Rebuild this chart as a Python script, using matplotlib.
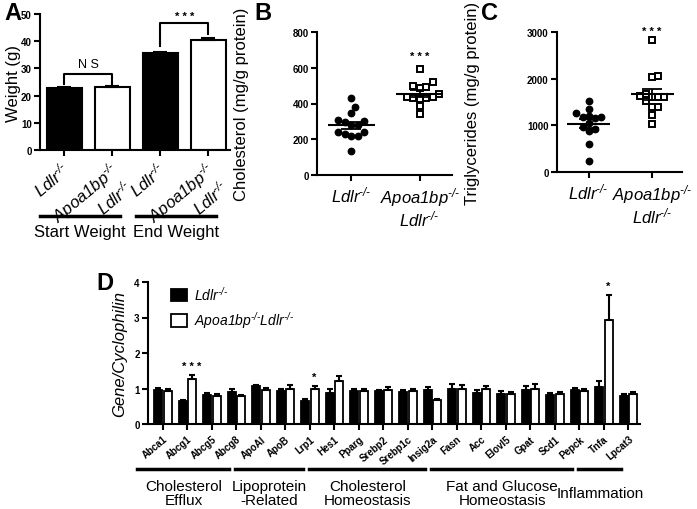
import numpy as np
import matplotlib
matplotlib.use('Agg')
import matplotlib.pyplot as plt
from matplotlib.transforms import ScaledTranslation, blended_transform_factory

plt.rcParams['font.family'] = ['Liberation Sans', 'DejaVu Sans']
plt.rcParams['mathtext.fontset'] = 'custom'
plt.rcParams['mathtext.rm'] = 'Liberation Sans:italic'
plt.rcParams['mathtext.it'] = 'Liberation Sans:italic'
plt.rcParams['mathtext.default'] = 'regular'
plt.rcParams['axes.linewidth'] = 1.5

SUP = r'$^{\text{-/-}}$'

# ---- panel A: body weight
weight_labels = ['Ldlr' + SUP, 'Apoa1bp' + SUP + '\nLdlr' + SUP,
                 'Ldlr' + SUP, 'Apoa1bp' + SUP + '\nLdlr' + SUP]
weight_mean = [22.8, 23.2, 35.6, 40.6]
weight_err = [0.4, 0.4, 0.6, 0.6]
weight_fill = ['black', 'white', 'black', 'white']
weight_groups = [('Start Weight', 0, 1), ('End Weight', 2, 3)]

# ---- panels B, C: liver lipids
dot_labels = ['Ldlr' + SUP, 'Apoa1bp' + SUP + '\nLdlr' + SUP]
chol_ldlr = [430, 378, 346, 300, 309, 298, 279, 280, 241, 241, 228, 219, 219, 135]
chol_dko = [595, 518, 496, 490, 485, 453, 438, 435, 433, 430, 425, 388, 341]
tg_ldlr = [1530, 1340, 1270, 1200, 1180, 1170, 1160, 1060, 960, 920, 880, 590, 230]
tg_dko = [2820, 2060, 2030, 1680, 1620, 1600, 1600, 1600, 1520, 1400, 1400, 1230, 1030]

# ---- panel D: gene expression
genes = ['Abca1', 'Abcg1', 'Abcg5', 'Abcg8', 'ApoAI', 'ApoB', 'Lrp1', 'Hes1', 'Pparg',
         'Srebp2', 'Srebp1c', 'Insig2a', 'Fasn', 'Acc', 'Elovl5', 'Gpat', 'Scd1',
         'Pepck', 'Tnfa', 'Lpcat3']
ldlr_expr = [0.97, 0.65, 0.83, 0.90, 1.07, 0.92, 0.65, 0.87, 0.92, 0.92, 0.90, 0.95,
             1.00, 0.88, 0.85, 0.97, 0.82, 0.95, 1.05, 0.80]
ldlr_err = [0.05, 0.03, 0.05, 0.08, 0.04, 0.08, 0.05, 0.12, 0.07, 0.05, 0.06, 0.08,
            0.12, 0.08, 0.08, 0.10, 0.05, 0.07, 0.15, 0.05]
dko_expr = [0.93, 1.28, 0.80, 0.78, 0.97, 1.00, 0.98, 1.20, 0.92, 0.97, 0.92, 0.67,
            0.98, 0.98, 0.85, 1.00, 0.85, 0.92, 2.92, 0.85]
dko_err = [0.06, 0.09, 0.04, 0.04, 0.04, 0.10, 0.10, 0.15, 0.08, 0.08, 0.06, 0.04,
           0.12, 0.10, 0.05, 0.12, 0.04, 0.08, 0.72, 0.04]
gene_groups = [('Cholesterol\nEfflux', 0, 3), ('Lipoprotein\n-Related', 4, 6),
               ('Cholesterol\nHomeostasis', 7, 11), ('Fat and Glucose\nHomeostasis', 12, 17),
               ('Inflammation', 18, 19)]
gene_sig = {1: '* * *', 6: '*', 18: '*'}

W, H = 697, 510
fig = plt.figure(figsize=(W / 100, H / 100), dpi=100)


def add_axes(left, top, right, bottom):
    return fig.add_axes([left / W, 1 - bottom / H, (right - left) / W, (bottom - top) / H])


def style(ax):
    ax.spines['top'].set_visible(False)
    ax.spines['right'].set_visible(False)
    ax.tick_params(length=4, width=1.5, pad=2)
    ax.tick_params(axis='y', labelsize=7)
    for lab in ax.get_yticklabels():
        lab.set_fontweight('bold')


def swarm(vals, px_per_y, px_per_x, size=6.5):
    # simple beeswarm offsets, worked out in pixels
    placed = []
    offs = np.zeros(len(vals))
    for i in np.argsort(vals):
        y = vals[i] * px_per_y
        k = 0
        while True:
            cands = [0.0] if k == 0 else [k * size * 0.5, -k * size * 0.5]
            ok = [c for c in cands if all(np.hypot(c - px, y - py) >= size for px, py in placed)]
            if ok:
                offs[i] = ok[0]
                placed.append((ok[0], y))
                break
            k += 1
    return offs / px_per_x


# ---------------- A
axA = add_axes(40, 15, 230, 151)
xa = np.arange(len(weight_mean))
axA.bar(xa, weight_mean, width=0.73, color=weight_fill, edgecolor='black', linewidth=1.5,
        yerr=[np.zeros(len(weight_err)), weight_err], capsize=5,
        error_kw=dict(elinewidth=1.5, capthick=1.5))
axA.set_xlim(-0.51, 3.45)
axA.set_ylim(0, 50)
axA.set_yticks(range(0, 51, 10))
axA.set_xticks(xa)
style(axA)
axA.set_xticklabels(weight_labels, rotation=40, ha='right', va='top', rotation_mode='anchor',
                    multialignment='right', fontstyle='italic', fontsize=12, linespacing=1.0)
for lab in axA.get_xticklabels():
    lab.set_transform(lab.get_transform() + ScaledTranslation(-0.04, 0, fig.dpi_scale_trans))
axA.set_ylabel('Weight (g)', fontsize=12)
axA.yaxis.set_label_coords(-0.1, 0.5)
# brackets
axA.plot([0, 0, 1, 1], [24.3, 27.9, 27.9, 24.3], color='black', lw=1.5)
axA.text(0.5, 29.3, 'N S', ha='center', va='bottom', fontsize=9)
axA.plot([2, 2, 3, 3], [38.2, 46.7, 46.7, 42.6], color='black', lw=1.5)
axA.text(2.5, 47.3, '* * *', ha='center', va='bottom', fontsize=8, fontweight='bold')
trA = blended_transform_factory(axA.transData, axA.transAxes)
for name, i0, i1 in weight_groups:
    axA.plot([i0 - 0.5, i1 + 0.15], [-0.485, -0.485], color='black', lw=2.5,
             transform=trA, clip_on=False)
    axA.text((i0 + i1) / 2 - 0.17, -0.6, name, ha='center', va='center', fontsize=12,
             transform=trA)


# ---------------- B, C
def dot_panel(box, a, b, ymax, step, ylabel, lab_x, star_y, px_y, px_x):
    ax = add_axes(*box)
    oa = swarm(np.array(a, float), px_y, px_x)
    ob = swarm(np.array(b, float), px_y, px_x)
    ax.plot(0 + oa, a, 'o', color='black', ms=4.6, clip_on=False, zorder=3)
    ax.plot(1 + ob, b, 's', mfc='white', mec='black', mew=1.4, ms=4.6, clip_on=False, zorder=3)
    for pos, v in ((0, a), (1, b)):
        m = np.mean(v)
        sem = np.std(v, ddof=1) / np.sqrt(len(v))
        ax.hlines(m, pos - 0.34, pos + 0.34, color='black', lw=1.5, zorder=4)
        ax.errorbar(pos, m, yerr=sem, fmt='none', ecolor='black', elinewidth=1.3,
                    capsize=7, capthick=1.3, zorder=4)
    ax.set_xlim(-0.5, 1.47)
    ax.set_ylim(0, ymax)
    ax.set_yticks(np.arange(0, ymax + 1, step))
    ax.set_xticks([0, 1])
    style(ax)
    ax.set_xticklabels(dot_labels, fontstyle='italic', fontsize=12, linespacing=1.05)
    ax.tick_params(axis='x', pad=3)
    ax.set_ylabel(ylabel, fontsize=12)
    ax.yaxis.set_label_coords(lab_x, 0.5)
    ax.text(1, star_y, '* * *', ha='center', va='center', fontsize=8, fontweight='bold')
    return ax


axB = dot_panel((317, 33, 452, 176), chol_ldlr, chol_dko, 800, 200,
                'Cholesterol (mg/g protein)', -0.5, 665, 143 / 800, 68)
axC = dot_panel((557, 33, 682, 173), tg_ldlr, tg_dko, 3000, 1000,
                'Triglycerides (mg/g protein)', -0.62, 3020, 140 / 3000, 67)

# ---------------- D
axD = add_axes(148, 283, 640, 425)
xg = np.arange(len(genes))
bw = 0.32
b1 = axD.bar(xg - 0.19, ldlr_expr, width=bw, color='black', edgecolor='black', linewidth=1.3,
             yerr=[np.zeros(len(genes)), ldlr_err], capsize=2.2,
             error_kw=dict(elinewidth=1.5, capthick=1.5))
b2 = axD.bar(xg + 0.19, dko_expr, width=bw, color='white', edgecolor='black', linewidth=1.3,
             yerr=[np.zeros(len(genes)), dko_err], capsize=2.2,
             error_kw=dict(elinewidth=1.5, capthick=1.5))
for i, s in gene_sig.items():
    axD.text(i + 0.19, dko_expr[i] + dko_err[i] + 0.12, s, ha='center', va='bottom',
             fontsize=8, fontweight='bold')
axD.set_xlim(-0.61, 19.47)
axD.set_ylim(0, 4)
axD.set_yticks(range(5))
axD.set_xticks(xg)
style(axD)
axD.set_xticklabels(genes, rotation=40, ha='right', va='top', rotation_mode='anchor',
                    fontsize=7, fontweight='bold')
axD.tick_params(axis='x', pad=3)
axD.set_ylabel('Gene/Cyclophilin', fontsize=12, fontstyle='italic')
axD.yaxis.set_label_coords(-0.043, 0.5)
axD.legend([b1, b2], ['Ldlr' + SUP, 'Apoa1bp' + SUP + 'Ldlr' + SUP], loc='upper left',
           bbox_to_anchor=(0.035, 1.02), frameon=False, handlelength=1.2, handleheight=1.0,
           handletextpad=0.5, borderaxespad=0, prop=dict(style='italic', size=10))
trD = blended_transform_factory(axD.transData, axD.transAxes)
for name, i0, i1 in gene_groups:
    axD.plot([i0 - 1.05, i1 - 0.3], [-0.317, -0.317], color='black', lw=2.5,
             transform=trD, clip_on=False)
    axD.text((i0 + i1) / 2 - 0.65, -0.486, name, ha='center', va='center', fontsize=11,
             linespacing=0.95, transform=trD)

# panel letters
for letter, x, y in (('A', 4, 13), ('B', 254, 13), ('C', 481, 13), ('D', 96, 283)):
    fig.text(x / W, 1 - y / H, letter, fontsize=17, fontweight='bold', ha='left', va='center')

fig.savefig('out.png', dpi=100)
